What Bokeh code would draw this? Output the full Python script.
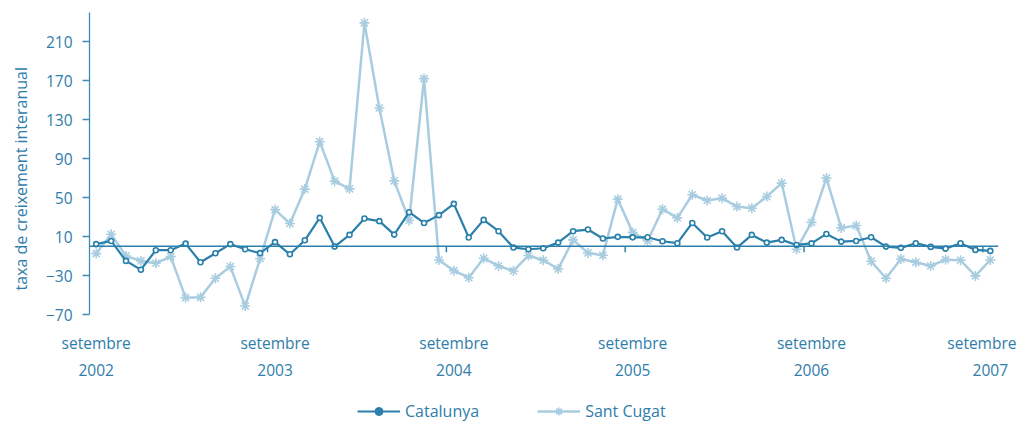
import numpy as np
from bokeh.plotting import figure
from bokeh.layouts import column
from bokeh.models import (FixedTicker, LinearAxis, Span, Legend, LegendItem, Title, Range1d)
from bokeh.embed import file_html
from bokeh.resources import INLINE

# Monthly interannual growth rate, Sept 2002 .. Sept 2007
months = list(range(61))
catalunya = [2.2, 5.5, -15, -24, -4, -4, 2.8, -16.4, -7.1, 2.2, -3, -7,
             4.3, -8.2, 6.2, 29.2, -0.3, 11.7, 28.5, 25.8, 12, 35, 24, 32,
             43.6, 9, 27.1, 15.5, -1.3, -3, -2, 3.8, 15.5, 17.2, 8, 9.7,
             9.2, 9.3, 5.2, 3.2, 24, 9, 15.5, -1.3, 11.7, 3.8, 6.6, 1.4,
             3.0, 12.7, 4.8, 5.5, 9.3, -0.3, -1.6, 3.2, -0.6, -2.4, 3.2, -3.7,
             -4.7]
sant_cugat = [-7.5, 12.4, -9.9, -15, -17.4, -10.6, -52.7, -52.4, -32.8, -20.8, -61.3, -12.6,
              37.7, 23.4, 58.7, 107.4, 66.9, 59, 229.4, 142, 67.2, 26.5, 172.1, -14,
              -25, -32.2, -12.3, -20.2, -25.3, -9.5, -14.3, -23.2, 6.6, -6.8, -9.2, 48.4,
              14.3, 5.5, 38.1, 29.2, 52.9, 47, 49.4, 40.8, 39.1, 51.1, 64.9, -3,
              24.6, 70, 18.9, 21.3, -15.3, -32.8, -13, -16.4, -20.2, -13.7, -14.3, -30.4,
              -14]
label_months = [0, 12, 24, 36, 48, 60]
label_month_name = ["setembre"] * 6
label_years = ["2002", "2003", "2004", "2005", "2006", "2007"]
y_ticks = [-70, -30, 10, 50, 90, 130, 170, 210]
series_names = ["Catalunya", "Sant Cugat"]

DARK = "#2a80aa"
LIGHT = "#a9cde0"
TEXT = "#2e7dab"
FONT = "Open Sans"

p = figure(width=1016, height=400, output_backend="svg", toolbar_location=None,
           x_axis_type=None, x_range=Range1d(-0.45, 60.55), y_range=Range1d(-70, 240),
           min_border_left=89, min_border_right=18, min_border_top=12, min_border_bottom=86)
p.outline_line_color = None
p.grid.visible = False
p.background_fill_color = "white"

# y axis
ya = p.yaxis[0]
ya.ticker = FixedTicker(ticks=y_ticks)
ya.axis_line_color = "#3f8db6"
ya.axis_line_width = 1.3
ya.major_tick_line_color = "#3f8db6"
ya.major_tick_line_width = 1.3
ya.major_tick_out = 7
ya.major_tick_in = 0
ya.minor_tick_line_color = None
ya.major_label_standoff = 10
ya.major_label_text_font = FONT
ya.major_label_text_font_size = "15.5px"
ya.major_label_text_color = TEXT

p.add_layout(Title(text="taxa de creixement interanual", align="left", offset=24,
                   standoff=18, vertical_align="top", text_font=FONT, text_font_size="16px",
                   text_font_style="normal", text_color=TEXT), "left")

# x label axes
def make_xaxis(labels, standoff):
    ax = LinearAxis(ticker=FixedTicker(ticks=label_months),
                    major_label_overrides={m: t for m, t in zip(label_months, labels)})
    ax.axis_line_color = None
    ax.major_tick_line_color = None
    ax.minor_tick_line_color = None
    ax.major_label_standoff = standoff
    ax.major_label_text_font = FONT
    ax.major_label_text_font_size = "15.5px"
    ax.major_label_text_color = TEXT
    return ax

p.add_layout(make_xaxis(label_month_name, 11), "below")
p.add_layout(make_xaxis(label_years, 1), "below")

# zero line with yearly ticks
p.add_layout(Span(location=0, dimension="width", line_color=DARK, line_width=1.5))
tick_x = [m - 0.5 for m in label_months[1:]]
p.segment(x0=tick_x, y0=[0] * len(tick_x), x1=tick_x, y1=[-6.2] * len(tick_x),
          line_color=DARK, line_width=1.5)

# series
p.line(months, sant_cugat, line_color=LIGHT, line_width=2.5)
p.scatter(months, sant_cugat, marker="asterisk", size=10, line_color=LIGHT, line_width=1.6)
p.line(months, catalunya, line_color=DARK, line_width=2.2)
p.scatter(months, catalunya, marker="circle", size=5, line_color=DARK,
          fill_color="white", line_width=1.6)

# legend strip
lg = figure(width=1016, height=24, output_backend="svg", toolbar_location=None,
            x_axis_type=None, y_axis_type=None, x_range=Range1d(0, 1), y_range=Range1d(0, 1),
            min_border_left=0, min_border_right=0, min_border_top=0, min_border_bottom=0)
lg.outline_line_color = None
lg.grid.visible = False
off = [-10, -9]
g1 = lg.line(off, off, line_color=DARK, line_width=2.2)
g1b = lg.scatter(off, off, marker="circle", size=5, line_color=DARK, fill_color=DARK)
g2 = lg.line(off, off, line_color=LIGHT, line_width=2.5)
g2b = lg.scatter(off, off, marker="asterisk", size=8, line_color=LIGHT, line_width=1.6)
legend = Legend(items=[LegendItem(label=series_names[0], renderers=[g1, g1b]),
                       LegendItem(label=series_names[1], renderers=[g2, g2b])],
                orientation="horizontal", location=(268, 2),
                glyph_width=43, glyph_height=20, label_standoff=5, spacing=58,
                padding=0, margin=0, border_line_color=None, background_fill_alpha=0,
                label_text_font=FONT, label_text_font_size="16px", label_text_color=TEXT)
lg.add_layout(legend, "center")

open("out.html", "w").write(file_html(column(p, lg, spacing=0), INLINE))
